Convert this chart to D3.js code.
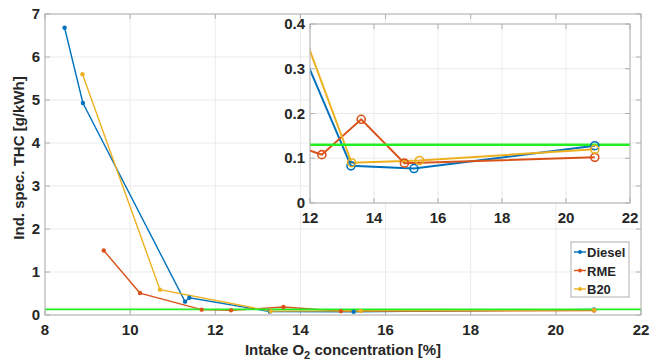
<!DOCTYPE html>
<html>
<head>
<meta charset="utf-8">
<script src="https://cdn.jsdelivr.net/npm/d3@7"></script>
<style>
  body { margin: 0; background: #fff; }
  svg text { font-family: "Liberation Sans", Arial, sans-serif; font-weight: bold; fill: #262626; }
</style>
</head>
<body>
<div id="chart"></div>
<script>
// data
const dieselX = [8.46, 8.89, 11.29, 11.39, 13.28, 15.25, 20.9];
const dieselY = [6.68, 4.93, 0.31, 0.40, 0.083, 0.077, 0.128];
const rmeX = [9.38, 10.23, 11.68, 12.37, 13.6, 14.95, 20.9];
const rmeY = [1.50, 0.51, 0.125, 0.108, 0.187, 0.089, 0.102];
const b20X = [8.88, 10.70, 13.3, 15.42, 20.9];
const b20Y = [5.6, 0.59, 0.09, 0.095, 0.12];
const limitValue = 0.13;

const mainXTicks = [8, 10, 12, 14, 16, 18, 20, 22];
const mainYTicks = [0, 1, 2, 3, 4, 5, 6, 7];
const insetXTicks = [12, 14, 16, 18, 20, 22];
const insetYTicks = [0, 0.1, 0.2, 0.3, 0.4];

const seriesNames = ["Diesel", "RME", "B20"];
const colors = ["#0072BD", "#D95319", "#EDB120"];

const series = [
  dieselX.map((x, i) => ({ x: x, y: dieselY[i] })),
  rmeX.map((x, i) => ({ x: x, y: rmeY[i] })),
  b20X.map((x, i) => ({ x: x, y: b20Y[i] }))
];

const width = 662, height = 360;
const svg = d3.select("#chart").append("svg")
  .attr("width", width)
  .attr("height", height);

function drawAxes(g, x, y, xTicks, yTicks, w, h, fmtY, clipId, markerStyle, lineW) {
  // grid
  g.append("rect").attr("width", w).attr("height", h).attr("fill", "#fff");
  g.selectAll("line.gx").data(xTicks).enter().append("line")
    .attr("x1", d => x(d)).attr("x2", d => x(d))
    .attr("y1", 0).attr("y2", h)
    .attr("stroke", "#ebebeb").attr("stroke-width", 1);
  g.selectAll("line.gy").data(yTicks).enter().append("line")
    .attr("y1", d => y(d)).attr("y2", d => y(d))
    .attr("x1", 0).attr("x2", w)
    .attr("stroke", "#ebebeb").attr("stroke-width", 1);

  // tick marks (inward, all four sides)
  const tl = 5;
  xTicks.forEach(d => {
    g.append("line").attr("x1", x(d)).attr("x2", x(d)).attr("y1", h).attr("y2", h - tl).attr("stroke", "#b0b0b0");
    g.append("line").attr("x1", x(d)).attr("x2", x(d)).attr("y1", 0).attr("y2", tl).attr("stroke", "#b0b0b0");
  });
  yTicks.forEach(d => {
    g.append("line").attr("y1", y(d)).attr("y2", y(d)).attr("x1", 0).attr("x2", tl).attr("stroke", "#b0b0b0");
    g.append("line").attr("y1", y(d)).attr("y2", y(d)).attr("x1", w).attr("x2", w - tl).attr("stroke", "#b0b0b0");
  });

  // tick labels
  g.selectAll("text.xt").data(xTicks).enter().append("text")
    .attr("x", d => x(d)).attr("y", h + 20)
    .attr("text-anchor", "middle")
    .style("font-size", "15px")
    .text(d => d);
  g.selectAll("text.yt").data(yTicks).enter().append("text")
    .attr("x", -5).attr("y", d => y(d) + 5)
    .attr("text-anchor", "end")
    .style("font-size", "15px")
    .text(fmtY);

  g.append("clipPath").attr("id", clipId)
    .append("rect").attr("width", w).attr("height", h);
  const plot = g.append("g").attr("clip-path", "url(#" + clipId + ")");

  const line = d3.line().x(d => x(d.x)).y(d => y(d.y));

  series.forEach((s, i) => {
    plot.append("path").datum(s)
      .attr("d", line)
      .attr("fill", "none")
      .attr("stroke", colors[i])
      .attr("stroke-width", lineW);
  });

  // limit line
  plot.append("line")
    .attr("x1", 0).attr("x2", w)
    .attr("y1", y(limitValue)).attr("y2", y(limitValue))
    .attr("stroke", "#22ee22").attr("stroke-width", lineW + 0.5);

  series.forEach((s, i) => {
    const m = plot.selectAll("circle.m" + i).data(s).enter().append("circle")
      .attr("cx", d => x(d.x)).attr("cy", d => y(d.y));
    if (markerStyle === "dot") {
      m.attr("r", 2.2).attr("fill", colors[i]);
    } else {
      m.attr("r", 4).attr("fill", "none").attr("stroke", colors[i]).attr("stroke-width", 1.6);
    }
  });

  // box
  g.append("rect").attr("width", w).attr("height", h)
    .attr("fill", "none").attr("stroke", "#b0b0b0").attr("stroke-width", 1);
}

// main axes
const margin = { top: 14, right: 21, bottom: 45, left: 45 };
const w = width - margin.left - margin.right;
const h = height - margin.top - margin.bottom;
const x = d3.scaleLinear().domain([8, 22]).range([0, w]);
const y = d3.scaleLinear().domain([0, 7]).range([h, 0]);
const main = svg.append("g").attr("transform", "translate(" + margin.left + "," + margin.top + ")");
drawAxes(main, x, y, mainXTicks, mainYTicks, w, h, d => d, "clipMain", "dot", 1.4);

// axis titles
const xl = svg.append("text")
  .attr("x", margin.left + w / 2).attr("y", 355)
  .attr("text-anchor", "middle")
  .style("font-size", "15px");
xl.append("tspan").text("Intake O");
xl.append("tspan").attr("dy", 4).style("font-size", "11px").text("2");
xl.append("tspan").attr("dy", -4).text(" concentration [%]");

svg.append("text")
  .attr("transform", "translate(24," + 158 + ") rotate(-90)")
  .attr("text-anchor", "middle")
  .style("font-size", "15px")
  .text("Ind. spec. THC [g/kWh]");

// legend
const legend = svg.append("g").attr("transform", "translate(571,242)");
legend.append("rect").attr("width", 58).attr("height", 55)
  .attr("fill", "#fff").attr("stroke", "#b0b0b0");
seriesNames.forEach((name, i) => {
  const ly = 10 + i * 18.5;
  legend.append("line").attr("x1", 3).attr("x2", 15).attr("y1", ly).attr("y2", ly)
    .attr("stroke", colors[i]).attr("stroke-width", 1.4);
  legend.append("circle").attr("cx", 9).attr("cy", ly).attr("r", 2).attr("fill", colors[i]);
  legend.append("text").attr("x", 16).attr("y", ly + 5)
    .style("font-size", "13px").text(name);
});

// inset axes
const ix = d3.scaleLinear().domain([12, 22]).range([0, 320]);
const iy = d3.scaleLinear().domain([0, 0.4]).range([179, 0]);
const inset = svg.append("g").attr("transform", "translate(310,24)");
drawAxes(inset, ix, iy, insetXTicks, insetYTicks, 320, 179, d => d === 0 ? "0" : d3.format(".1f")(d), "clipInset", "circle", 2);
</script>
</body>
</html>
